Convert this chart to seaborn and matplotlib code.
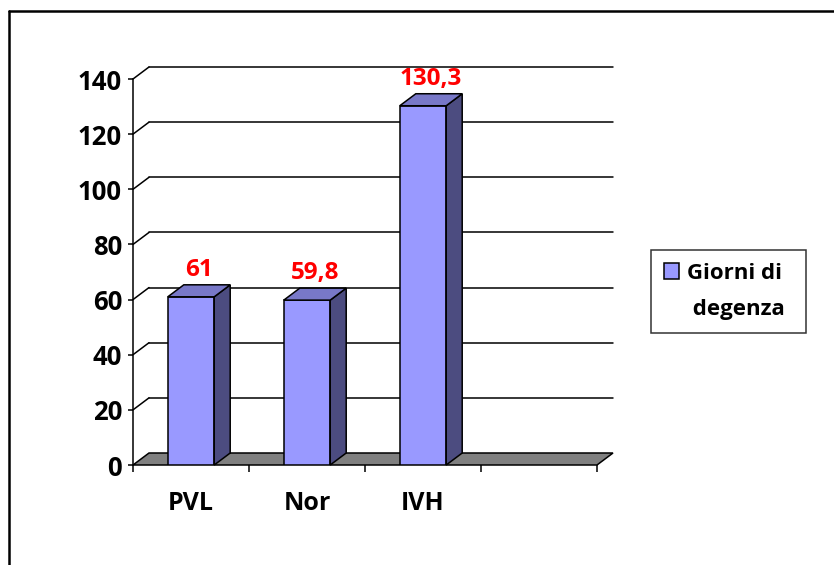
import pandas as pd
import seaborn as sns
import matplotlib.pyplot as plt
from matplotlib.patches import Polygon, Patch
from matplotlib.lines import Line2D

# data
categories = ["PVL", "Nor", "IVH"]
giorni = [61, 59.8, 130.3]
labels = ["61", "59,8", "130,3"]
serie = ["Giorni di", " degenza"]
yticks = [0, 20, 40, 60, 80, 100, 120, 140]

df = pd.DataFrame({"cat": categories, "val": giorni})

sns.set_style("white")
plt.rcParams['font.family'] = ['Open Sans', 'DejaVu Sans']
plt.rcParams['font.weight'] = 'bold'
plt.rcParams['text.color'] = 'black'
plt.rcParams['xtick.color'] = 'black'
plt.rcParams['ytick.color'] = 'black'

fig = plt.figure(figsize=(8.34, 5.65), dpi=100)
ax = fig.add_axes([133 / 834, 100 / 565, 464 / 834, 386 / 565])

front = "#9999FF"
side = "#4C4C80"
top = "#7878C8"

sns.barplot(data=df, x="cat", y="val", ax=ax, color=front, width=0.4,
            saturation=1, edgecolor="black", linewidth=1.1, zorder=5)

ax.set_xlim(-0.5, 3.5)
ax.set_ylim(0, 140)

# depth of the 3d effect, pixels -> data units
dx = 16 * 4 / 464
dy = 12 * 140 / 386

# back wall gridlines and left wall diagonals
for v in yticks[1:]:
    ax.plot([-0.5 + dx, 3.5 + dx], [v + dy, v + dy], color="black", lw=1.1,
            clip_on=False, zorder=1)
    ax.plot([-0.5, -0.5 + dx], [v, v + dy], color="black", lw=1.1,
            clip_on=False, zorder=1)

# floor
ax.add_patch(Polygon([(-0.5, 0), (3.5, 0), (3.5 + dx, dy), (-0.5 + dx, dy)],
                     closed=True, facecolor="#808080", edgecolor="black",
                     lw=1.1, clip_on=False, zorder=2))

# side and top faces of the bars
for p, lab in zip(ax.patches[:len(giorni)], labels):
    x0 = p.get_x()
    x1 = x0 + p.get_width()
    h = p.get_height()
    ax.add_patch(Polygon([(x1, 0), (x1 + dx, dy), (x1 + dx, h + dy), (x1, h)],
                         closed=True, facecolor=side, edgecolor="black",
                         lw=1.1, clip_on=False, zorder=5))
    ax.add_patch(Polygon([(x0, h), (x1, h), (x1 + dx, h + dy), (x0 + dx, h + dy)],
                         closed=True, facecolor=top, edgecolor="black",
                         lw=1.1, clip_on=False, zorder=5))
    ax.annotate(lab, ((x0 + x1) / 2 + dx / 2, h + dy), xytext=(0, 9),
                textcoords="offset pixels", ha="center", va="baseline",
                color="red", fontsize=17.5, fontweight="bold")

for s in ["top", "right", "bottom"]:
    ax.spines[s].set_visible(False)
ax.spines["left"].set_color("black")
ax.spines["left"].set_linewidth(1.1)

ax.set_yticks(yticks)
ax.tick_params(axis="y", which="major", direction="out", length=3.6, width=1.1,
               color="black", pad=4.3, labelsize=18.5, left=True)
ax.set_xticks(range(len(categories)))
ax.set_xticklabels(categories)
ax.set_xticks([-0.5, 0.5, 1.5, 2.5, 3.5], minor=True)
ax.tick_params(axis="x", which="major", length=0, pad=19, labelsize=18)
ax.tick_params(axis="x", which="minor", direction="out", length=5, width=1.1,
               color="black", bottom=True)
ax.set_xlabel("")
ax.set_ylabel("")
ax.grid(False)

# legend: one series, name split over two lines
handles = [Patch(facecolor=front, edgecolor="black", lw=1.1),
           Patch(facecolor="none", edgecolor="none")]
leg = fig.legend(handles, serie, loc="upper left",
                 bbox_to_anchor=(651 / 834, 1 - 332 / 565, 155 / 834, 82 / 565),
                 mode="expand", frameon=True, fancybox=False, edgecolor="black",
                 prop={"size": 16, "weight": "bold"},
                 handlelength=0.7, handleheight=0.7, handletextpad=0.35,
                 borderpad=0.58, borderaxespad=0, labelspacing=0.68)
leg.get_frame().set_linewidth(1.1)

# border of the chart area (left and top)
fig.add_artist(Line2D([9 / 834, 9 / 834], [0, 1 - 11 / 565], color="black",
                      lw=1.8, transform=fig.transFigure))
fig.add_artist(Line2D([9 / 834, 1], [1 - 11 / 565, 1 - 11 / 565], color="black",
                      lw=1.8, transform=fig.transFigure))

plt.savefig("out.png", dpi=100)
